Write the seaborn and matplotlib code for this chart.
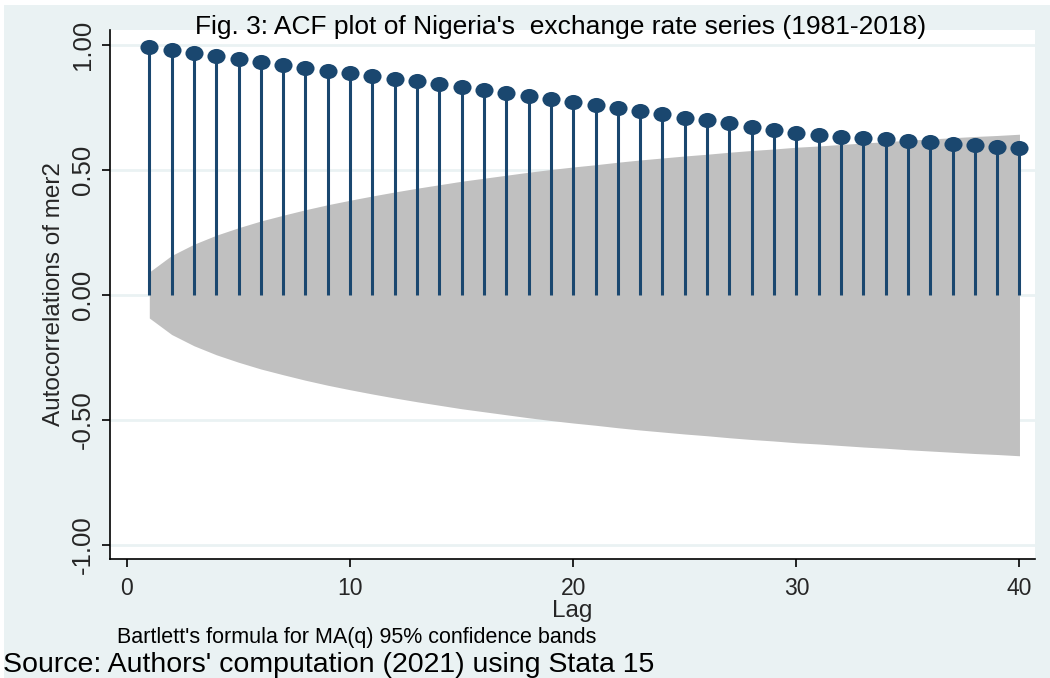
import matplotlib
matplotlib.use("Agg")
import matplotlib.pyplot as plt
import seaborn as sns
import pandas as pd
from matplotlib.patches import Rectangle
from matplotlib.path import Path

# Autocorrelations of mer2 for lags 1..40
lags = list(range(1, 41))
acf = [0.992, 0.980, 0.968, 0.956, 0.944, 0.932, 0.920, 0.908, 0.896, 0.888,
       0.876, 0.864, 0.856, 0.844, 0.832, 0.820, 0.808, 0.796, 0.784, 0.772,
       0.760, 0.748, 0.736, 0.724, 0.708, 0.700, 0.688, 0.672, 0.660, 0.648,
       0.640, 0.632, 0.628, 0.624, 0.616, 0.612, 0.604, 0.600, 0.592, 0.588]
# Bartlett's formula 95% confidence band half-width at each lag
band = [0.092, 0.158, 0.203, 0.239, 0.269, 0.296, 0.319, 0.341, 0.361, 0.379,
        0.396, 0.412, 0.427, 0.441, 0.455, 0.467, 0.479, 0.491, 0.502, 0.512,
        0.521, 0.531, 0.540, 0.548, 0.556, 0.563, 0.571, 0.578, 0.584, 0.591,
        0.596, 0.602, 0.608, 0.613, 0.619, 0.624, 0.629, 0.634, 0.638, 0.643]
xticks = [0, 10, 20, 30, 40]
yticks = [-1.0, -0.5, 0.0, 0.5, 1.0]
ytick_labels = ["-1.00", "-0.50", "0.00", "0.50", "1.00"]

df = pd.DataFrame({"lag": lags, "acf": acf, "band": band})

sns.set_theme(style="white")
plt.rcParams["font.family"] = ["Liberation Sans", "DejaVu Sans"]

BG = "#EAF2F3"
NAVY = "#1A476F"

fig = plt.figure(figsize=(10.5, 6.78), dpi=100, facecolor=BG)
ax = fig.add_axes([0.1048, 0.1755, 0.881, 0.7803])
ax.set_facecolor("white")

# thin white strips along the top and left edges of the canvas
fig.patches.append(Rectangle((0, 1 - 5 / 678), 1, 5 / 678, transform=fig.transFigure,
                             facecolor="white", edgecolor="none", zorder=-1))
fig.patches.append(Rectangle((0, 0), 4 / 1050, 1, transform=fig.transFigure,
                             facecolor="white", edgecolor="none", zorder=-1))

# horizontal grid
for yv in yticks:
    ax.axhline(yv, color=BG, lw=2.0, zorder=0)

# confidence band
ax.fill_between(df["lag"], -df["band"], df["band"], color="#C0C0C0",
                linewidth=0, zorder=1)

# stems and slightly wide round markers
circ = Path.unit_circle()
oval = Path(circ.vertices * [1.2, 1.0], circ.codes)
ax.vlines(df["lag"], 0, df["acf"], color=NAVY, lw=2.2, zorder=2)
sns.scatterplot(data=df, x="lag", y="acf", ax=ax, color=NAVY, s=170, marker=oval,
                edgecolor=NAVY, linewidth=0, zorder=3, legend=False)

ax.set_xlim(-0.76, 40.7)
ax.set_ylim(-1.056, 1.06)
ax.set_xticks(xticks)
ax.set_xticklabels([str(v) for v in xticks], fontsize=16.5)
ax.set_yticks(yticks)
ax.set_yticklabels(ytick_labels, fontsize=18.5, rotation=90, va="center")

for side in ["top", "right"]:
    ax.spines[side].set_visible(False)
for side in ["left", "bottom"]:
    ax.spines[side].set_color("black")
    ax.spines[side].set_linewidth(1.2)
ax.tick_params(axis="both", direction="out", length=6, width=1.2, color="black",
               bottom=True, left=True)
ax.tick_params(axis="x", pad=7)
ax.tick_params(axis="y", pad=5)

ax.set_xlabel("Lag", fontsize=17.5, labelpad=0)
ax.set_ylabel("Autocorrelations of mer2", fontsize=17.5, labelpad=4)

fig.text(561 / 1050, 1 - 27 / 678,
         "Fig. 3: ACF plot of Nigeria's  exchange rate series (1981-2018)",
         ha="center", va="center", fontsize=19, color="black")
fig.text(117 / 1050, 1 - 637 / 678, "Bartlett's formula for MA(q) 95% confidence bands",
         ha="left", va="center", fontsize=15.5, color="black")
fig.text(3 / 1050, 1 - 665 / 678, "Source: Authors' computation (2021) using Stata 15",
         ha="left", va="center", fontsize=20.5, color="black")

fig.savefig("out.png", dpi=100, facecolor=BG)
